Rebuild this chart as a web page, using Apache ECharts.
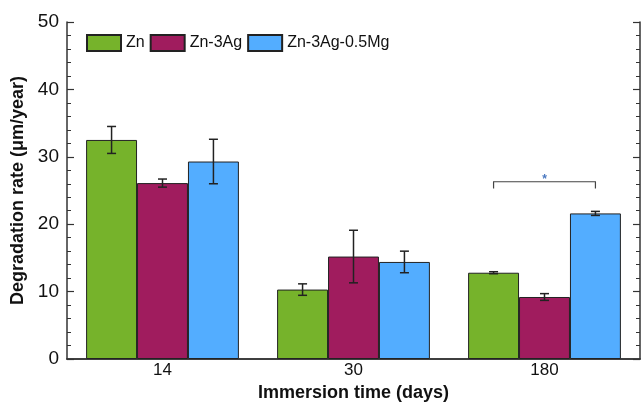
<!DOCTYPE html>
<html><head><meta charset="utf-8">
<script src="https://cdn.jsdelivr.net/npm/echarts@6/dist/echarts.min.js"></script>
<style>html,body{margin:0;padding:0;background:#fff}#c{width:643px;height:408px}</style>
</head><body><div id="c"></div>
<script>
const categories = ['14', '30', '180'];
const seriesNames = ['Zn', 'Zn-3Ag', 'Zn-3Ag-0.5Mg'];
const znValues = [32.5, 10.3, 12.8];
const znErrors = [2.0, 0.85, 0.15];
const agValues = [26.1, 15.2, 9.2];
const agErrors = [0.6, 3.9, 0.5];
const mgValues = [29.3, 14.4, 21.6];
const mgErrors = [3.3, 1.6, 0.3];
const colors = ['#76B32B', '#A01C5E', '#53ADFF'];
// significance bracket: [category index, from series, to series, y level, label]
const sigBracket = [2, 0, 2, 26.3, '*'];
const sigDrop = 1.0;

const values = [znValues, agValues, mgValues];
const errors = [znErrors, agErrors, mgErrors];
const FONT = 'Liberation Sans, Arial, sans-serif';
const catGap = 0.2;

function barOffset(api, idx) {
  const bw = api.size([1, 0])[0];
  const gw = bw * (1 - catGap);
  const w = gw / 3;
  return { off: (idx - 1) * w, w: w };
}

const series = [];
seriesNames.forEach((n, i) => {
  series.push({
    name: n, type: 'bar', data: values[i], barGap: '0%', barCategoryGap: '20%',
    itemStyle: { color: colors[i], borderColor: '#222', borderWidth: 1 },
    z: 2
  });
});
seriesNames.forEach((n, i) => {
  series.push({
    type: 'custom', z: 5, silent: true,
    data: values[i].map((v, k) => [k, v, errors[i][k]]),
    renderItem: function (params, api) {
      const k = api.value(0), v = api.value(1), e = api.value(2);
      const o = barOffset(api, i);
      const top = api.coord([k, v + e]);
      const bot = api.coord([k, v - e]);
      const x = top[0] + o.off;
      const cap = 4.5;
      return {
        type: 'group', children: [
          { type: 'line', shape: { x1: x, y1: top[1], x2: x, y2: bot[1] }, style: { stroke: '#222', lineWidth: 1.5 } },
          { type: 'line', shape: { x1: x - cap, y1: top[1], x2: x + cap, y2: top[1] }, style: { stroke: '#222', lineWidth: 1.5 } },
          { type: 'line', shape: { x1: x - cap, y1: bot[1], x2: x + cap, y2: bot[1] }, style: { stroke: '#222', lineWidth: 1.5 } }
        ]
      };
    }
  });
});
series.push({
  type: 'custom', z: 6, silent: true,
  data: [sigBracket],
  renderItem: function (params, api) {
    const k = api.value(0), a = api.value(1), b = api.value(2), y = api.value(3);
    const p = api.coord([k, y]);
    const pd = api.coord([k, y - sigDrop]);
    const oa = barOffset(api, a), ob = barOffset(api, b);
    const x1 = p[0] + oa.off, x2 = p[0] + ob.off;
    return {
      type: 'group', children: [
        { type: 'polyline', shape: { points: [[x1, pd[1]], [x1, p[1]], [x2, p[1]], [x2, pd[1]]] }, style: { stroke: '#444', lineWidth: 1.2, fill: null } },
        { type: 'text', style: { text: sigBracket[4], x: (x1 + x2) / 2, y: p[1] + 4, textAlign: 'center', textVerticalAlign: 'bottom', fill: '#4A78C0', font: 'bold 12px ' + FONT } }
      ]
    };
  }
});

const chart = echarts.init(document.getElementById('c'));
chart.setOption({
  animation: false,
  backgroundColor: '#fff',
  grid: { left: 67, right: 3, top: 22, bottom: 49, outerBoundsMode: 'none', containLabel: false },
  legend: {
    data: seriesNames, left: 81, top: 29, itemWidth: 34, itemHeight: 16, itemGap: 5,
    textStyle: { fontSize: 16, fontFamily: FONT, color: '#111' },
    icon: 'rect'
  },
  xAxis: [{
    type: 'category', data: categories,
    axisLine: { lineStyle: { color: '#333', width: 1.5 } },
    axisTick: { show: false },
    axisLabel: { fontSize: 17, fontFamily: FONT, color: '#111', margin: 3 },
    name: 'Immersion time (days)', nameLocation: 'middle', nameGap: 22,
    nameTextStyle: { fontSize: 18, fontWeight: 'bold', fontFamily: FONT, color: '#111' }
  }, {
    type: 'category', data: categories, position: 'top',
    axisLine: { lineStyle: { color: '#333', width: 1.5 } },
    axisTick: { show: false }, axisLabel: { show: false }
  }],
  yAxis: [{
    type: 'value', min: 0, max: 50, interval: 10,
    axisLine: { show: true, lineStyle: { color: '#333', width: 1.5 } },
    axisTick: { show: true, inside: true, length: 7, lineStyle: { color: '#333', width: 1.2 } },
    minorTick: { show: true, splitNumber: 5, length: 4, lineStyle: { color: '#333', width: 1 } },
    splitLine: { show: false },
    axisLabel: { fontSize: 19, fontFamily: FONT, color: '#111', margin: 8 },
    name: 'Degradation rate (\u03bcm/year)', nameLocation: 'middle', nameGap: 31,
    nameTextStyle: { fontSize: 18, fontWeight: 'bold', fontFamily: FONT, color: '#111' }
  }, {
    type: 'value', min: 0, max: 50, interval: 10, position: 'right',
    axisLine: { show: true, lineStyle: { color: '#333', width: 1.5 } },
    axisTick: { show: true, inside: true, length: 7, lineStyle: { color: '#333', width: 1.2 } },
    minorTick: { show: true, splitNumber: 5, length: 4, lineStyle: { color: '#333', width: 1 } },
    splitLine: { show: false }, axisLabel: { show: false }
  }],
  series: series
});
</script></body></html>
